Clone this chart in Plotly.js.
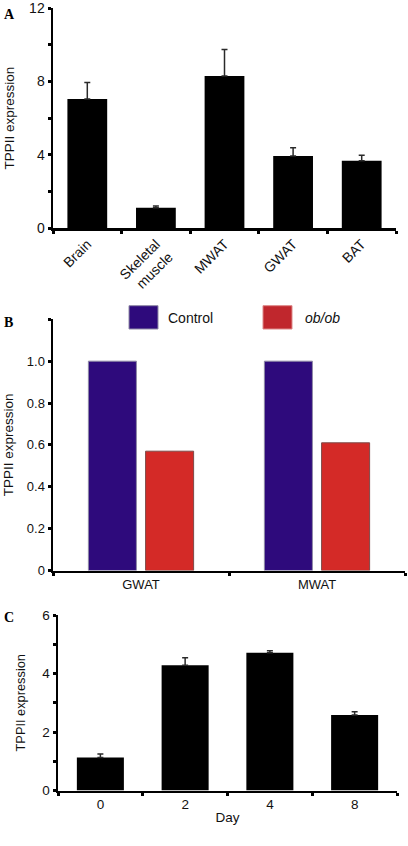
<!DOCTYPE html>
<html>
<head>
<meta charset="utf-8">
<script src="https://cdn.plot.ly/plotly-3.0.1.min.js"></script>
<style>html,body{margin:0;padding:0;background:#fff;}#chart{width:408px;height:846px;}</style>
</head>
<body>
<div id="chart"></div>
<script>
// Panel A: tissue distribution
const catsA = ['Brain', 'Skeletal<br>muscle', 'MWAT', 'GWAT', 'BAT'];
const valsA = [7.05, 1.1, 8.3, 3.93, 3.67];
const errA = [0.9, 0.1, 1.45, 0.45, 0.3];
const tickValsA = [0, 2, 4, 6, 8, 10, 12];
const tickTextA = ['0', '', '4', '', '8', '', '12'];

// Panel B: Control vs ob/ob
const catsB = ['GWAT', 'MWAT'];
const seriesNamesB = ['Control', '<i>ob/ob</i>'];
const controlB = [1.0, 1.0];
const obobB = [0.57, 0.61];
const tickValsB = [0, 0.2, 0.4, 0.6, 0.8, 1.0, 1.2];
const tickTextB = ['0', '0.2', '0.4', '0.6', '0.8', '1.0', ''];

// Panel C: time course
const catsC = ['0', '2', '4', '8'];
const valsC = [1.13, 4.28, 4.71, 2.58];
const errC = [0.12, 0.26, 0.07, 0.11];
const tickValsC = [0, 1, 2, 3, 4, 5, 6];
const tickTextC = ['0', '', '2', '', '4', '', '6'];

const W = 408, H = 846;
const px = v => v / W;
const py = v => 1 - v / H;

const ctrlColor = '#2e0a7c';
const obColor = '#d42a27';

const errStyle = (arr) => ({
  type: 'data', symmetric: false, array: arr, arrayminus: arr.map(() => 0),
  color: '#2a2a2a', thickness: 1.5, width: 3
});

const traces = [
  {type: 'bar', x: catsA, y: valsA, xaxis: 'x', yaxis: 'y', width: 0.58,
   marker: {color: '#000', line: {width: 0}}, error_y: errStyle(errA), hoverinfo: 'skip'},
  {type: 'bar', name: seriesNamesB[0], x: catsB, y: controlB, xaxis: 'x2', yaxis: 'y2',
   marker: {color: ctrlColor, line: {color: '#8f8aa6', width: 1}}, hoverinfo: 'skip'},
  {type: 'bar', name: seriesNamesB[1], x: catsB, y: obobB, xaxis: 'x2', yaxis: 'y2',
   marker: {color: obColor, line: {color: '#7d4a48', width: 1}}, hoverinfo: 'skip'},
  {type: 'bar', x: catsC, y: valsC, xaxis: 'x3', yaxis: 'y3', width: 0.555,
   marker: {color: '#000', line: {width: 0}}, error_y: errStyle(errC), hoverinfo: 'skip'}
];

const axBase = {
  showline: true, linecolor: '#000', linewidth: 2.5, showgrid: false, zeroline: false,
  ticks: 'outside', ticklen: 3, tickwidth: 3, tickcolor: '#000', fixedrange: true,
  tickfont: {size: 13, color: '#111'}
};
const titleFont = {size: 13.5, color: '#111'};

const layout = {
  width: W, height: H,
  margin: {l: 0, r: 0, t: 0, b: 0},
  paper_bgcolor: '#fff', plot_bgcolor: '#fff',
  font: {family: 'Liberation Sans, Arial, sans-serif', size: 13, color: '#111'},
  showlegend: false,
  barmode: 'group', bargap: 0.35, bargroupgap: 0.16,
  xaxis: Object.assign({}, axBase, {domain: [px(53), px(396)], anchor: 'y', type: 'category',
    tickson: 'boundaries', tickangle: -45, automargin: false, tickfont: {size: 14, color: '#111'}}),
  yaxis: Object.assign({}, axBase, {domain: [py(228), py(8.3)], anchor: 'x', range: [0, 12],
    tickmode: 'array', tickvals: tickValsA, ticktext: tickTextA, automargin: false,
    tickfont: {size: 14, color: '#111'},
    title: {text: 'TPPII expression', font: titleFont, standoff: 12}}),
  xaxis2: Object.assign({}, axBase, {domain: [px(53), px(405)], anchor: 'y2', type: 'category',
    tickson: 'boundaries', automargin: false}),
  yaxis2: Object.assign({}, axBase, {domain: [py(570.5), py(319.3)], anchor: 'x2', range: [0, 1.2],
    tickmode: 'array', tickvals: tickValsB, ticktext: tickTextB, automargin: false,
    title: {text: 'TPPII expression', font: titleFont, standoff: 10}}),
  xaxis3: Object.assign({}, axBase, {domain: [px(58), px(397)], anchor: 'y3', type: 'category',
    tickson: 'boundaries', automargin: false, tickfont: {size: 13.5, color: '#111'},
    title: {text: 'Day', font: {size: 13.5, color: '#111'}, standoff: 2}}),
  yaxis3: Object.assign({}, axBase, {domain: [py(790.5), py(615)], anchor: 'x3', range: [0, 6],
    tickmode: 'array', tickvals: tickValsC, ticktext: tickTextC, automargin: false,
    tickfont: {size: 13.5, color: '#111'},
    title: {text: 'TPPII expression', font: {size: 12.8, color: '#111'}, standoff: 14}}),
  shapes: [
    {type: 'rect', xref: 'paper', yref: 'paper', x0: px(129), x1: px(158), y0: py(329), y1: py(305.7),
     fillcolor: ctrlColor, line: {color: '#8f8aa6', width: 1}},
    {type: 'rect', xref: 'paper', yref: 'paper', x0: px(263), x1: px(292), y0: py(329), y1: py(305.7),
     fillcolor: '#c0272d', line: {color: '#d88', width: 1}}
  ],
  annotations: [
    {text: 'A', xref: 'paper', yref: 'paper', x: px(2), y: py(15), xanchor: 'left', yanchor: 'middle',
     showarrow: false, font: {family: 'Liberation Serif, serif', size: 14, color: '#000', weight: 'bold'}},
    {text: 'B', xref: 'paper', yref: 'paper', x: px(2), y: py(322), xanchor: 'left', yanchor: 'middle',
     showarrow: false, font: {family: 'Liberation Serif, serif', size: 14, color: '#000', weight: 'bold'}},
    {text: 'C', xref: 'paper', yref: 'paper', x: px(2), y: py(617), xanchor: 'left', yanchor: 'middle',
     showarrow: false, font: {family: 'Liberation Serif, serif', size: 14, color: '#000', weight: 'bold'}},
    {text: seriesNamesB[0], xref: 'paper', yref: 'paper', x: px(166), y: py(318), xanchor: 'left', yanchor: 'middle',
     showarrow: false, font: {size: 14, color: '#111'}},
    {text: seriesNamesB[1], xref: 'paper', yref: 'paper', x: px(303), y: py(318), xanchor: 'left', yanchor: 'middle',
     showarrow: false, font: {size: 14, color: '#111'}}
  ]
};

Plotly.newPlot('chart', traces, layout, {staticPlot: true, displayModeBar: false});
</script>
</body>
</html>
